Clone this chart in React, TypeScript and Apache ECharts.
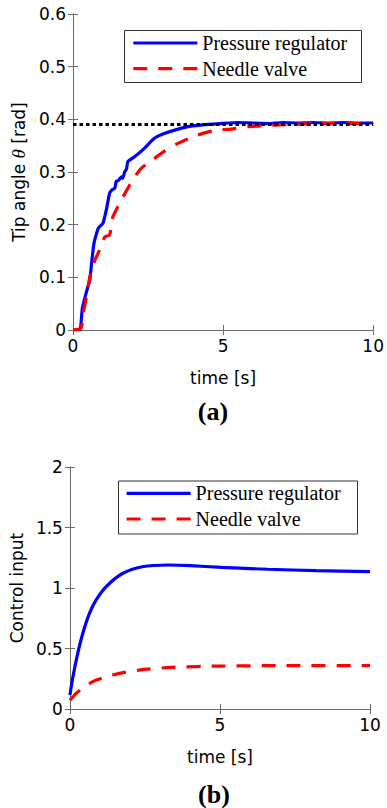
import React, { useEffect, useRef } from "react";
import * as echarts from "echarts";

// ---------- data ----------
const seriesNames = ["Pressure regulator", "Needle valve"];
const xTicks = [0, 5, 10];
const angleTicks = [0, 0.1, 0.2, 0.3, 0.4, 0.5, 0.6];
const inputTicks = [0, 0.5, 1, 1.5, 2];
const targetAngle = 0.3927;

// (a) tip angle, pressure regulator
const angleRegT = [0, 0.23, 0.31, 0.45, 0.56, 0.62, 0.7, 0.84, 1.0, 1.11, 1.22, 1.3, 1.39, 1.44, 1.52, 1.61, 1.66, 1.72, 1.78, 1.83, 2.05, 2.38, 2.71, 3.04, 3.48, 3.92, 4.4, 4.9, 5.5, 6.0, 6.5, 7.0, 7.5, 8.0, 8.5, 9.0, 9.5, 10];
const angleRegV = [0, 0, 0.041, 0.073, 0.095, 0.127, 0.165, 0.193, 0.203, 0.228, 0.26, 0.266, 0.269, 0.282, 0.284, 0.291, 0.288, 0.3, 0.305, 0.32, 0.329, 0.345, 0.364, 0.373, 0.381, 0.387, 0.39, 0.392, 0.394, 0.393, 0.392, 0.394, 0.393, 0.394, 0.393, 0.394, 0.393, 0.393];

// (a) tip angle, needle valve
const angleNeedleT = [0, 0.27, 0.34, 0.45, 0.56, 0.73, 0.89, 1.06, 1.22, 1.33, 1.61, 1.99, 2.27, 2.65, 3.04, 3.48, 4.14, 4.8, 5.18, 5.84, 6.7, 7.5, 8.5, 9.5, 10];
const angleNeedleV = [0, 0.003, 0.032, 0.063, 0.101, 0.133, 0.152, 0.177, 0.18, 0.215, 0.247, 0.285, 0.307, 0.323, 0.339, 0.354, 0.37, 0.38, 0.381, 0.386, 0.389, 0.391, 0.392, 0.392, 0.393];

// (b) control input, pressure regulator
const inputRegT = [0, 0.1, 0.26, 0.43, 0.65, 0.87, 1.2, 1.75, 2.41, 3.3, 4.0, 5.05, 6.6, 8.2, 10];
const inputRegV = [0.116, 0.267, 0.46, 0.626, 0.79, 0.9, 1.01, 1.12, 1.176, 1.19, 1.185, 1.17, 1.155, 1.143, 1.135];

// (b) control input, needle valve
const inputNeedleT = [0, 0.1, 0.21, 0.43, 0.76, 1.42, 2.3, 3.4, 5.05, 7, 10];
const inputNeedleV = [0.074, 0.1, 0.13, 0.171, 0.226, 0.281, 0.322, 0.344, 0.355, 0.358, 0.358];

const zip = (t: number[], v: number[]) => t.map((x, i) => [x, v[i]]);

const BLUE = "#0000ff";
const RED = "#ff0000";
const AXIS = "#6b6b6b";
const SANS = "'DejaVu Sans', sans-serif";
const SERIF = "'Liberation Serif', 'Times New Roman', serif";
const FS = 17;

export default function App() {
  const ref = useRef<HTMLDivElement>(null);
  useEffect(() => {
    if (!ref.current) return;
    const chart = echarts.init(ref.current, null, { renderer: "svg" });

    const grids = [
      { left: 73, top: 14, width: 303, height: 316 },
      { left: 67, top: 467, width: 303, height: 242 },
    ];

    const baseAxis = (grid: number, pos: string, labels: boolean) => ({
      gridIndex: grid,
      type: "value",
      position: pos,
      min: 0,
      max: 10,
      interval: xTicks[1] - xTicks[0],
      axisLine: { show: true, lineStyle: { color: AXIS, width: 1 } },
      axisTick: { show: true, inside: true, length: 5, lineStyle: { color: AXIS } },
      axisLabel: labels
        ? { show: true, margin: 7, color: "#000", fontFamily: SANS, fontSize: FS }
        : { show: false },
      splitLine: { show: false },
    });

    const xAxes = [0, 1].flatMap((g) => [
      {
        ...baseAxis(g, "bottom", true),
        name: "time [s]",
        nameLocation: "middle",
        nameGap: 39,
        nameTextStyle: { color: "#000", fontFamily: SANS, fontSize: FS },
      },
      baseAxis(g, "top", false),
    ]);

    const yAxisDef = (g: number, pos: string, labels: boolean, ticks: number[]) => ({
      ...baseAxis(g, pos, labels),
      min: ticks[0],
      max: ticks[ticks.length - 1],
      interval: ticks[1] - ticks[0],
    });

    const yAxes = [
      {
        ...yAxisDef(0, "left", true, angleTicks),
        name: "Tip angle {i|θ} [rad]",
        nameLocation: "middle",
        nameRotate: 90,
        nameGap: 41,
        nameTextStyle: {
          color: "#000",
          fontFamily: SANS,
          fontSize: FS,
          rich: { i: { fontFamily: SERIF, fontStyle: "italic", fontSize: 19, color: "#000" } },
        },
      },
      yAxisDef(0, "right", false, angleTicks),
      {
        ...yAxisDef(1, "left", true, inputTicks),
        name: "Control input",
        nameLocation: "middle",
        nameRotate: 90,
        nameGap: 41,
        nameTextStyle: { color: "#000", fontFamily: SANS, fontSize: FS },
      },
      yAxisDef(1, "right", false, inputTicks),
    ];

    const line = (name: string, data: number[][], xi: number, yi: number, color: string, dashed: boolean, extra: any = {}) => ({
      type: "line",
      name,
      data,
      xAxisIndex: xi,
      yAxisIndex: yi,
      symbol: "none",
      smooth: 0.25,
      lineStyle: { color, width: 3.2, type: dashed ? [14, 11] : "solid" },
      itemStyle: { color },
      z: dashed ? 3 : 2,
      ...extra,
    });

    const legendCommon = {
      orient: "vertical",
      itemWidth: 64,
      itemHeight: 14,
      itemGap: 5.7,
      padding: 0,
      selectedMode: false,
      itemStyle: { color: "rgba(0,0,0,0)", borderColor: "rgba(0,0,0,0)", borderWidth: 0 },
      lineStyle: { width: 3.2 },
      textStyle: { color: "#000", fontFamily: SERIF, fontSize: 20, lineHeight: 20 },
      data: seriesNames,
      z: 6,
    };

    chart.setOption({
      animation: false,
      grid: grids,
      xAxis: xAxes,
      yAxis: yAxes,
      legend: [
        { ...legendCommon, left: 131.7, top: 33 },
        { ...legendCommon, left: 125, top: 483.3 },
      ],
      graphic: [
        { type: "rect", z: 5, shape: { x: 124.5, y: 30.5, width: 237, height: 52 }, style: { fill: "#fff", stroke: "#333", lineWidth: 1 } },
        { type: "rect", z: 5, shape: { x: 118.5, y: 481, width: 239, height: 53 }, style: { fill: "#fff", stroke: "#333", lineWidth: 1 } },
        { type: "text", z: 5, x: 213, y: 411, style: { text: "(a)", font: `bold 26px ${SERIF}`, fill: "#000", align: "center", verticalAlign: "middle" } },
        { type: "text", z: 5, x: 214, y: 794, style: { text: "(b)", font: `bold 26px ${SERIF}`, fill: "#000", align: "center", verticalAlign: "middle" } },
      ],
      series: [
        line(seriesNames[0], zip(angleRegT, angleRegV), 0, 0, BLUE, false, {
          smooth: 0.15,
          markLine: {
            silent: true,
            symbol: "none",
            label: { show: false },
            lineStyle: { color: "#000", width: 3, type: [3.5, 3] },
            data: [{ yAxis: targetAngle }],
            z: 10,
          },
        }),
        line(seriesNames[1], zip(angleNeedleT, angleNeedleV), 0, 0, RED, true, { smooth: 0.15 }),
        line(seriesNames[0], zip(inputRegT, inputRegV), 2, 2, BLUE, false),
        line(seriesNames[1], zip(inputNeedleT, inputNeedleV), 2, 2, RED, true),
      ],
    });
    return () => chart.dispose();
  }, []);

  return (
    <div
      ref={ref}
      style={{ position: "fixed", left: 0, top: 0, width: 387, height: 808, background: "#fff" }}
    />
  );
}
